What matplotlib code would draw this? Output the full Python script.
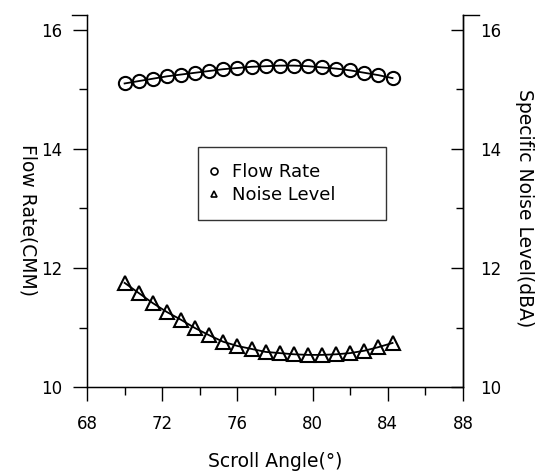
import matplotlib.pyplot as plt
from matplotlib.lines import Line2D

plt.rcParams['font.family'] = ['DejaVu Sans']

# scroll angle (deg)
angle = [70.0, 70.75, 71.5, 72.25, 73.0, 73.75, 74.5, 75.25, 76.0, 76.75,
         77.5, 78.25, 79.0, 79.75, 80.5, 81.25, 82.0, 82.75, 83.5, 84.25]
# flow rate (CMM)
flow_rate = [15.10, 15.14, 15.18, 15.22, 15.25, 15.28, 15.31, 15.34, 15.36, 15.38,
             15.39, 15.40, 15.40, 15.39, 15.37, 15.35, 15.32, 15.28, 15.24, 15.19]
# specific noise level (dBA), plotted on the same scale
noise_level = [11.75, 11.58, 11.41, 11.26, 11.13, 10.99, 10.87, 10.76, 10.69, 10.64,
               10.59, 10.57, 10.55, 10.54, 10.54, 10.55, 10.57, 10.61, 10.67, 10.74]

x_ticks = [68, 72, 76, 80, 84, 88]
y_ticks = [10, 12, 14, 16]

fig = plt.figure(figsize=(5.52, 4.74), dpi=100)
ax = fig.add_axes([0.1576, 0.1835, 0.6812, 0.7848])

ax.plot(angle, flow_rate, color='black', lw=1.3, marker='o', ms=9.5,
        mfc='none', mec='black', mew=1.5)
ax.plot(angle, noise_level, color='black', lw=1.3, marker='^', ms=9.5,
        mfc='none', mec='black', mew=1.5)

ax.set_xlim(68, 88)
ax.set_ylim(10, 16.25)
ax.set_xticks(x_ticks)
ax.set_xticks(range(70, 88, 4), minor=True)
ax.set_yticks(y_ticks)
ax.set_yticks([11, 13, 15], minor=True)
ax.tick_params(which='major', direction='out', length=10, width=1, labelsize=12, pad=8)
ax.tick_params(axis='x', which='major', pad=10)
ax.tick_params(which='minor', direction='out', length=6, width=1)
ax.spines['top'].set_visible(False)
for s in ['left', 'bottom', 'right']:
    ax.spines[s].set_linewidth(1)

ax2 = ax.twinx()
ax2.set_ylim(10, 16.25)
ax2.set_yticks(y_ticks)
ax2.set_yticks([11, 13, 15], minor=True)
ax2.tick_params(which='major', direction='in', length=9, width=1, labelsize=12, pad=12)
ax2.tick_params(which='minor', direction='in', length=5, width=1)
ax2.spines['top'].set_visible(False)
ax2.spines['right'].set_linewidth(1)

# small caps at the top of both vertical axes
ax.add_line(Line2D([-0.04, 0], [1, 1], transform=ax.transAxes, color='black',
                   lw=1, clip_on=False))
ax.add_line(Line2D([1, 1.043], [1, 1], transform=ax.transAxes, color='black',
                   lw=1, clip_on=False))

ax.set_xlabel('Scroll Angle(°)', fontsize=13.5)
ax.xaxis.set_label_coords(0.5, -0.175)
ax.set_ylabel('Flow Rate(CMM)', fontsize=13.5, rotation=-90)
ax.yaxis.set_label_coords(-0.182, 0.45)
ax2.set_ylabel('Specific Noise Level(dBA)', fontsize=13.5, rotation=-90)
ax2.yaxis.set_label_coords(1.19, 0.48)

handles = [Line2D([], [], ls='none', marker='o', ms=5, mfc='none', mec='black', mew=1.2),
           Line2D([], [], ls='none', marker='^', ms=5, mfc='none', mec='black', mew=1.2)]
leg = ax.legend(handles, ['Flow Rate', 'Noise Level'], loc='upper left',
                bbox_to_anchor=(0.295, 0.645, 0.5, 0.0), mode='expand',
                fontsize=13, frameon=True, fancybox=False, edgecolor='black',
                handlelength=0.0, handletextpad=1.0, labelspacing=0.25,
                borderpad=0.9, borderaxespad=0)
leg.get_frame().set_linewidth(1)

plt.savefig('out.png', dpi=100)
